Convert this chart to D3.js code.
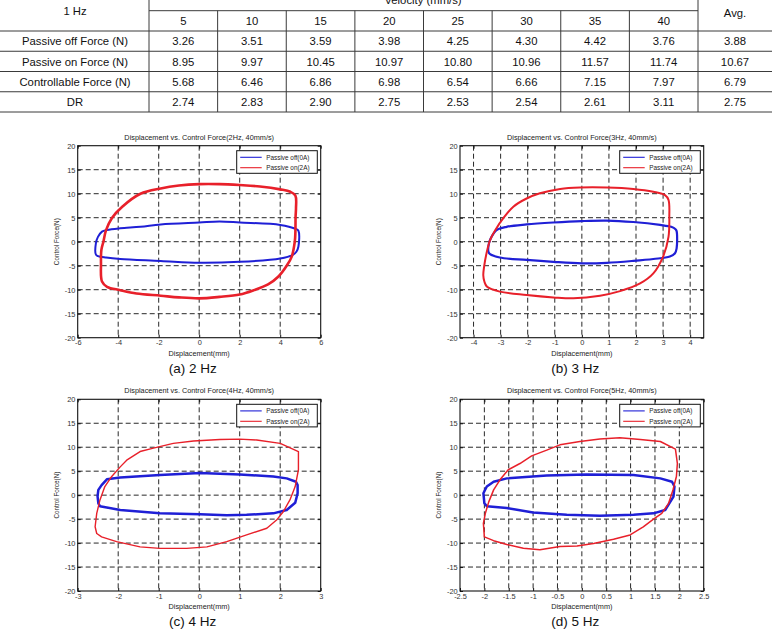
<!DOCTYPE html>
<html><head><meta charset="utf-8">
<script src="https://cdn.jsdelivr.net/npm/d3@7"></script>
<style>body{margin:0;background:#fff}svg{display:block}</style>
</head><body>
<svg id="c" width="772" height="631"></svg>
<script>
// ---------- table data ----------
const velocities = ["5","10","15","20","25","30","35","40"];
const rowLabels = ["Passive off Force (N)","Passive on Force (N)","Controllable Force (N)","DR"];
const passiveOff = ["3.26","3.51","3.59","3.98","4.25","4.30","4.42","3.76"];
const passiveOn = ["8.95","9.97","10.45","10.97","10.80","10.96","11.57","11.74"];
const controllable = ["5.68","6.46","6.86","6.98","6.54","6.66","7.15","7.97"];
const dampingRatio = ["2.74","2.83","2.90","2.75","2.53","2.54","2.61","3.11"];
const averages = ["3.88","10.67","6.79","2.75"];

// ---------- chart data (displacement mm, force N) ----------
const yTicks = [-20,-15,-10,-5,0,5,10,15,20];
const xTicks2Hz = [-6,-4,-2,0,2,4,6];
const xTicks3Hz = [-4,-3,-2,-1,0,1,2,3,4];
const xTicks4Hz = [-3,-2,-1,0,1,2,3];
const xTicks5Hz = [-2.5,-2,-1.5,-1,-0.5,0,0.5,1,1.5,2,2.5];
const seriesNames = ["Passive off(0A)","Passive on(2A)"];

const blue2Hz = [[-5.1,-0.3],[-5.0,1.0],[-4.8,2.1],[-4.55,2.45],[-3.9,2.8],[-2.9,3.1],[-1.9,3.6],[0,4.0],[1,4.2],[2,4.0],[4,3.5],[4.75,2.7],[4.9,2.3],[4.9,-1],[4.8,-2.1],[4.6,-2.8],[4,-3.5],[2,-4.2],[0,-4.4],[-1.9,-4.0],[-3.9,-3.6],[-4.6,-3.3],[-5.0,-3.0],[-5.1,-2.7]];
const red2Hz = [[-4.73,0],[-4.6,2.4],[-4.3,5],[-3.8,7.3],[-2.9,10],[-1.9,11.1],[-1,11.7],[0,12],[1,12],[2,11.8],[3,11.5],[4,10.9],[4.5,10.4],[4.75,9.6],[4.78,7],[4.76,5.2],[4.75,2],[4.72,0],[4.57,-3.1],[4.32,-5],[3.9,-7.3],[3.4,-8.9],[2.7,-10.1],[2,-11],[1,-11.5],[0,-11.8],[-1,-11.6],[-1.9,-11.25],[-3.1,-10.8],[-3.9,-10.1],[-4.55,-9.4],[-4.8,-8.3],[-4.85,-4.5],[-4.83,-1.7]];

const blue3Hz = [[-3.43,-0.35],[-3.35,0.85],[-3.15,2.4],[-2.78,3.1],[-2.04,3.6],[-1.05,4.0],[0,4.3],[0.92,4.4],[1.9,4.1],[2.89,3.5],[3.3,3.1],[3.46,2.6],[3.5,2.2],[3.5,-1.4],[3.44,-2.4],[3.25,-3.1],[2.64,-3.6],[1.9,-4.0],[0.92,-4.4],[0,-4.5],[-1.05,-4.2],[-2.04,-3.8],[-3.03,-3.3],[-3.39,-2.6],[-3.45,-2.1]];
const red3Hz = [[-3.39,0.35],[-3.2,2.4],[-2.9,4.9],[-2.53,7.3],[-2.04,9.0],[-1.55,10.1],[-0.8,11.0],[-0.07,11.3],[0.92,11.3],[1.9,11.0],[2.64,10.4],[3.07,9.7],[3.2,8.7],[3.23,5.2],[3.2,1.0],[3.0,-3.1],[2.64,-6.6],[2.15,-8.7],[1.41,-10.3],[0.67,-11.25],[-0.31,-11.8],[-1.05,-11.6],[-2.04,-11.1],[-3.03,-10.4],[-3.5,-9.4],[-3.6,-8.3],[-3.64,-7.0],[-3.61,-5.2],[-3.52,-2.4]];

const blue4Hz = [[-2.51,-0.2],[-2.49,1.1],[-2.41,2.1],[-2.28,3.3],[-1.95,3.7],[-0.97,4.2],[0.02,4.6],[1.0,4.3],[1.83,3.9],[2.16,3.5],[2.39,2.8],[2.43,2.1],[2.43,0.4],[2.37,-1.6],[2.16,-3.1],[1.83,-3.8],[1.17,-4.1],[0.68,-4.2],[0.02,-4.0],[-0.97,-3.8],[-1.95,-3.1],[-2.45,-2.3],[-2.49,-1.7]];
const red4Hz = [[-2.57,-6.6],[-2.53,-3.8],[-2.45,-1.0],[-2.33,1.8],[-2.16,3.9],[-1.95,5.9],[-1.79,7.3],[-1.46,9.1],[-1.13,9.8],[-0.64,10.8],[-0.14,11.3],[0.51,11.6],[1.0,11.7],[1.42,11.5],[2.0,10.8],[2.45,9.1],[2.45,5.3],[2.37,1.8],[2.24,-1.0],[2.08,-3.4],[1.91,-5.2],[1.67,-6.9],[1.17,-8.3],[0.68,-9.7],[0.19,-10.8],[-0.31,-11.1],[-0.97,-11.1],[-1.46,-10.8],[-2.04,-9.7],[-2.41,-8.7],[-2.53,-8.0]];

const blue5Hz = [[-2.02,0.4],[-1.95,1.8],[-1.81,2.8],[-1.54,3.5],[-0.72,4.1],[0.1,4.3],[1.06,4.2],[1.61,3.5],[1.85,2.8],[1.9,1.8],[1.88,-0.3],[1.71,-3.1],[1.47,-3.8],[1.06,-4.1],[0.37,-4.3],[-0.31,-4.1],[-1.0,-3.6],[-1.54,-2.7],[-1.95,-2.3],[-2.0,-1.7]];
const red5Hz = [[-2.0,-8.7],[-2.02,-5.9],[-1.98,-3.8],[-1.91,-1.4],[-1.81,1.1],[-1.68,3.2],[-1.51,5.3],[-1.27,6.6],[-1.03,8.2],[-0.72,9.4],[-0.45,10.5],[-0.04,11.2],[0.37,11.7],[0.78,12.0],[1.2,11.6],[1.61,11.2],[1.92,9.6],[1.96,6.6],[1.94,3.9],[1.87,1.1],[1.78,-1.7],[1.64,-3.8],[1.47,-5.0],[1.26,-6.6],[0.99,-8.3],[0.65,-9.2],[0.24,-10.1],[-0.1,-10.6],[-0.45,-10.7],[-0.86,-11.4],[-1.2,-11.1],[-1.54,-10.3],[-1.81,-9.5]];

// ---------- layout / style ----------
const FONT = "'Liberation Sans', Arial, sans-serif";
const BLUE = "#1f1fd6", RED = "#e8202a";
const svg = d3.select("#c");

// ----- table -----
const tbl = svg.append("g");
const colX = d3.scaleBand().domain(velocities).range([149, 698]);
const rowY = d3.scaleBand().domain(rowLabels).range([31, 112]);
const lineC = "#3a3a3a";
function hl(x1,x2,y){tbl.append("line").attr("x1",x1).attr("x2",x2).attr("y1",y).attr("y2",y).attr("stroke",lineC).attr("stroke-width",1);}
function vl(x,y1,y2){tbl.append("line").attr("x1",x).attr("x2",x).attr("y1",y1).attr("y2",y2).attr("stroke",lineC).attr("stroke-width",1);}
hl(149, 698, 10.7);
hl(0, 772, 31);
rowLabels.forEach(r => hl(0, 772, rowY(r) + rowY.bandwidth()));
vl(149, 0, 112); vl(698, 0, 112);
velocities.slice(1).forEach(v => vl(colX(v), 10.7, 112));
function txt(x,y,t){tbl.append("text").attr("x",x).attr("y",y).attr("text-anchor","middle").attr("dominant-baseline","central")
  .attr("font-family",FONT).attr("font-size",11.3).attr("fill","#111").text(t);}
txt(423, 0, "Velocity (mm/s)");
txt(75, 11, "1 Hz");
txt(735, 12.5, "Avg.");
velocities.forEach(v => txt(colX(v)+colX.bandwidth()/2, 21, v));
const rowsData = [passiveOff, passiveOn, controllable, dampingRatio];
rowLabels.forEach((r,i) => {
  const cy = rowY(r) + rowY.bandwidth()/2 + 0.3;
  txt(75, cy, r);
  rowsData[i].forEach((val,j) => txt(colX(velocities[j]) + colX.bandwidth()/2, cy, val));
  txt(735, cy, averages[i]);
});

// ----- panels -----
const panels = [
  {freq:"2Hz", cap:"(a) 2 Hz", left:77.7, top:145.7, w:243, h:192, xd:[-6,6], xt:xTicks2Hz, blue:blue2Hz, red:red2Hz, curve:d3.curveCatmullRomClosed.alpha(0.5), bw:2, rw:2.6},
  {freq:"3Hz", cap:"(b) 3 Hz", left:460, top:145.7, w:243.7, h:192, xd:[-4.5,4.5], xt:xTicks3Hz, blue:blue3Hz, red:red3Hz, curve:d3.curveCatmullRomClosed.alpha(0.5), bw:2.2, rw:2},
  {freq:"4Hz", cap:"(c) 4 Hz", left:77.7, top:399.3, w:243, h:191.7, xd:[-3,3], xt:xTicks4Hz, blue:blue4Hz, red:red4Hz, curve:d3.curveLinearClosed, bw:2.5, rw:1.4},
  {freq:"5Hz", cap:"(d) 5 Hz", left:460, top:399.3, w:243.7, h:191.7, xd:[-2.5,2.5], xt:xTicks5Hz, blue:blue5Hz, red:red5Hz, curve:d3.curveLinearClosed, bw:2.5, rw:1.5},
];

panels.forEach(p => {
  const g = svg.append("g").attr("transform",`translate(${p.left},${p.top})`);
  const x = d3.scaleLinear().domain(p.xd).range([0,p.w]);
  const y = d3.scaleLinear().domain([-20,20]).range([p.h,0]);
  const fmt = d => String(d);
  // grid
  const grid = g.append("g").attr("stroke","#111").attr("stroke-width",0.9).attr("stroke-dasharray","5,3");
  p.xt.filter(t => t>p.xd[0] && t<p.xd[1]).forEach(t => grid.append("line").attr("x1",x(t)).attr("x2",x(t)).attr("y1",0).attr("y2",p.h));
  yTicks.filter(t => t>-20 && t<20).forEach(t => grid.append("line").attr("y1",y(t)).attr("y2",y(t)).attr("x1",0).attr("x2",p.w));
  // axes
  const styleAx = sel => { sel.select(".domain").remove(); sel.selectAll("line").attr("stroke","#111");
    sel.selectAll("text").attr("font-family",FONT).attr("font-size",7.4).attr("fill","#333"); };
  g.append("g").attr("transform",`translate(0,${p.h})`).call(d3.axisBottom(x).tickValues(p.xt).tickFormat(fmt).tickSize(-3).tickPadding(2.5)).call(styleAx);
  g.append("g").call(d3.axisTop(x).tickValues(p.xt).tickFormat("").tickSize(-3)).call(styleAx);
  g.append("g").call(d3.axisLeft(y).tickValues(yTicks).tickFormat(fmt).tickSize(-3).tickPadding(2.3)).call(styleAx);
  g.append("g").attr("transform",`translate(${p.w},0)`).call(d3.axisRight(y).tickValues(yTicks).tickFormat("").tickSize(-3)).call(styleAx);
  g.selectAll("g.tick text").attr("font-size",7.4);
  // data
  const line = d3.line().x(d => x(d[0])).y(d => y(d[1])).curve(p.curve);
  g.append("path").attr("d",line(p.blue)).attr("fill","none").attr("stroke",BLUE).attr("stroke-width",p.bw).attr("stroke-linejoin","round");
  g.append("path").attr("d",line(p.red)).attr("fill","none").attr("stroke",RED).attr("stroke-width",p.rw).attr("stroke-linejoin","round");
  // box
  g.append("rect").attr("width",p.w).attr("height",p.h).attr("fill","none").attr("stroke","#111").attr("stroke-width",1.1);
  // legend
  const lg = g.append("g").attr("transform",`translate(${p.w-84},5)`);
  lg.append("rect").attr("width",80.6).attr("height",22.6).attr("fill","#fff").attr("stroke","#111").attr("stroke-width",1);
  [BLUE, RED].forEach((c,i) => {
    const ly = 6.6 + i*10.4;
    lg.append("line").attr("x1",3.5).attr("x2",25).attr("y1",ly).attr("y2",ly).attr("stroke",c).attr("stroke-width",1.1);
    lg.append("text").attr("x",29.5).attr("y",ly).attr("dominant-baseline","central").attr("font-family",FONT)
      .attr("font-size",6.4).attr("fill","#222").text(seriesNames[i]);
  });
  // labels
  g.append("text").attr("x",p.w/2).attr("y",-8.5).attr("text-anchor","middle").attr("dominant-baseline","central")
    .attr("font-family",FONT).attr("font-size",7.3).attr("fill","#222").text(`Displacement vs. Control Force(${p.freq}, 40mm/s)`);
  g.append("text").attr("x",p.w/2).attr("y",p.h+16).attr("text-anchor","middle").attr("dominant-baseline","central")
    .attr("font-family",FONT).attr("font-size",7.3).attr("fill","#222").text("Displacement(mm)");
  g.append("text").attr("transform",`translate(-21.5,${p.h/2}) rotate(-90)`).attr("text-anchor","middle").attr("dominant-baseline","central")
    .attr("font-family",FONT).attr("font-size",6.3).attr("fill","#222").text("Control Force(N)");
  g.append("text").attr("x",p.w/2-6.5).attr("y",p.h+30.5).attr("text-anchor","middle").attr("dominant-baseline","central")
    .attr("font-family",FONT).attr("font-size",13.5).attr("fill","#111").text(p.cap);
});
</script>
</body></html>
